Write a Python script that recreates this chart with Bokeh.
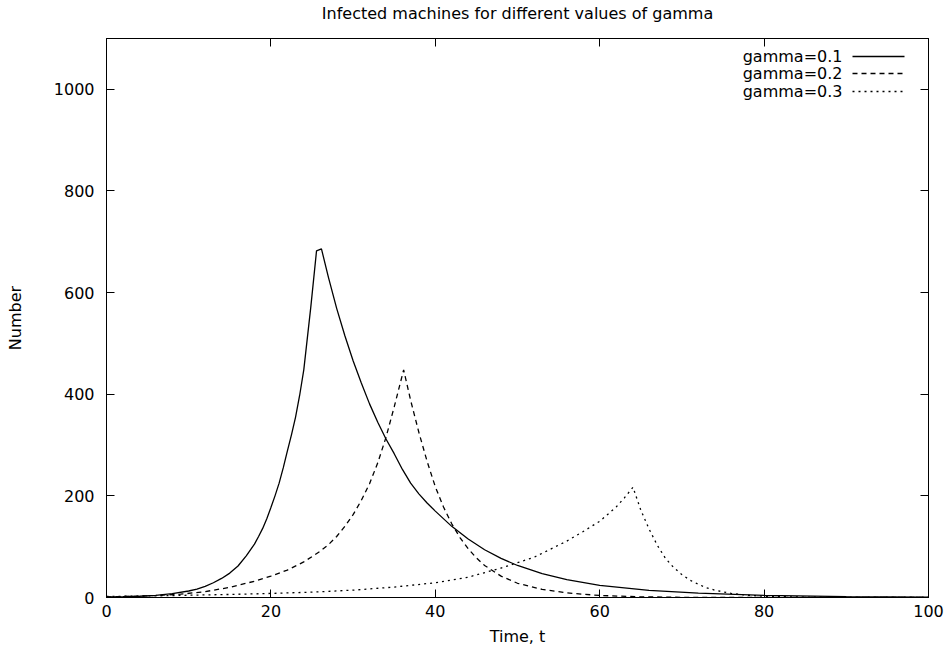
from bokeh.plotting import figure
from bokeh.models import (FixedTicker, LinearAxis, Range1d, Label, Arrow,
                          CustomJSTickFormatter)
from bokeh.embed import file_html
from bokeh.resources import INLINE

FONT = "DejaVu Sans"

# ---- data -------------------------------------------------------------
x_ticks = [0, 20, 40, 60, 80, 100]
y_ticks = [0, 200, 400, 600, 800, 1000]

title_text = "Infected machines for different values of gamma"
x_label = "Time, t"
y_label = "Number"

series_labels = ["gamma=0.1", "gamma=0.2", "gamma=0.3"]

t_g01 = [0, 2, 4, 6, 8, 10, 11, 12, 13, 14, 15, 16, 17, 18, 18.5, 19, 19.5, 20,
         20.5, 21, 21.5, 22, 22.5, 23, 23.5, 24, 24.85, 25.55, 26.15,
         27, 28, 29, 30, 31, 32, 33, 34, 35, 36, 37, 38, 39, 40, 42, 44, 46,
         48, 50, 53, 56, 60, 66, 72, 80, 90, 100]
n_g01 = [1, 1.6, 2.5, 4.3, 7.5, 12.8, 16.5, 22, 29, 37.5, 48, 62, 82, 105, 120, 136, 155, 177,
         200, 225, 255, 288, 320, 355, 398, 448, 571, 682, 686,
         630, 569, 515, 466, 422, 381, 345, 312, 283, 252, 225, 204, 186, 170, 140, 115, 94,
         77, 63, 47, 35, 24, 14, 8.5, 4, 1.8, 0.8]

t_g02 = [0, 3, 6, 9, 12, 15, 18, 20, 22, 24, 26, 27, 28, 29, 30, 31, 32, 33, 34, 35, 36.15,
         37, 38, 39, 40, 41, 42, 43, 44, 45, 46, 48, 50, 53, 56, 60, 65, 70, 80, 100]
n_g02 = [1.2, 2.2, 4, 6.5, 11.5, 20, 32, 42, 54, 70, 91, 104, 120, 140, 163, 191, 224, 265, 315, 375, 448,
         388, 325, 268, 218, 178, 145, 118, 96, 78, 63, 42, 28, 16, 9, 4, 1.3, 0.4, 0.05, 0]

t_g03 = [0, 5, 10, 15, 20, 25, 30, 35, 40, 44, 48, 52, 56, 58, 60, 61, 62, 63, 64.05,
         65, 66, 67, 68, 69, 70, 71, 72, 73, 74, 76, 78, 80, 85, 90, 100]
n_g03 = [2, 3, 4.5, 6, 8, 10.5, 14.5, 20.5, 29, 40, 58, 79, 111, 130, 150, 164, 178, 196, 217,
         172, 135, 103, 77, 59, 45, 34, 26, 19, 14.5, 8, 4.5, 2.5, 0.6, 0.2, 0]

# ---- figure -----------------------------------------------------------
p = figure(width=950, height=662, output_backend="svg", toolbar_location=None,
           x_range=Range1d(0, 100), y_range=Range1d(0, 1100),
           min_border_left=106, min_border_right=22, min_border_top=37,
           min_border_bottom=65, background_fill_color="white",
           border_fill_color="white")

p.xgrid.visible = False
p.ygrid.visible = False
p.outline_line_color = "black"
p.outline_line_width = 1

def style_axis(ax, labels=True):
    ax.major_tick_in = 8
    ax.major_tick_out = 0
    ax.minor_tick_line_color = None
    ax.axis_line_color = "black"
    ax.major_tick_line_color = "black"
    ax.major_label_text_color = "black"
    ax.major_label_text_font = FONT
    ax.major_label_text_font_size = "16px"
    ax.axis_label_text_font = FONT
    ax.axis_label_text_font_size = "16px"
    ax.axis_label_text_font_style = "normal"
    ax.axis_label_text_color = "black"
    if not labels:
        ax.formatter = CustomJSTickFormatter(code="return ''")
        ax.major_label_standoff = 0
        ax.major_label_text_font_size = "0px"

xa = p.xaxis[0]
xa.ticker = FixedTicker(ticks=x_ticks)
style_axis(xa)
xa.axis_label = x_label
xa.major_label_standoff = 7
xa.axis_label_standoff = 7

ya = p.yaxis[0]
ya.ticker = FixedTicker(ticks=y_ticks)
style_axis(ya)
ya.axis_label = y_label
ya.major_label_standoff = 12
ya.axis_label_standoff = 26

# mirrored top axis (ticks only) carries the chart title, gnuplot-style
top = LinearAxis(ticker=FixedTicker(ticks=x_ticks))
style_axis(top, labels=False)
top.axis_label = title_text
top.axis_label_standoff = 16
p.add_layout(top, "above")

right = LinearAxis(ticker=FixedTicker(ticks=y_ticks))
style_axis(right, labels=False)
p.add_layout(right, "right")

dashes = ["solid", "5 4", "2 4"]
series = [(t_g01, n_g01), (t_g02, n_g02), (t_g03, n_g03)]
for (t, n), d in zip(series, dashes):
    p.line(t, n, line_color="black", line_width=1.3, line_dash=d)

# ---- legend (label left, sample right, like gnuplot) --------------------
legend_y = [541, 524, 506]
for lab, d, yy in zip(series_labels, dashes, legend_y):
    p.add_layout(Label(x=736, y=yy, x_units="screen", y_units="screen",
                       text=lab, text_align="right", text_baseline="middle",
                       text_font=FONT, text_font_size="16px", text_color="black"))
    p.add_layout(Arrow(end=None, x_start=746, y_start=yy, x_end=798, y_end=yy,
                       start_units="screen", end_units="screen",
                       line_color="black", line_width=1.3, line_dash=d))

open("out.html", "w").write(file_html(p, INLINE))
